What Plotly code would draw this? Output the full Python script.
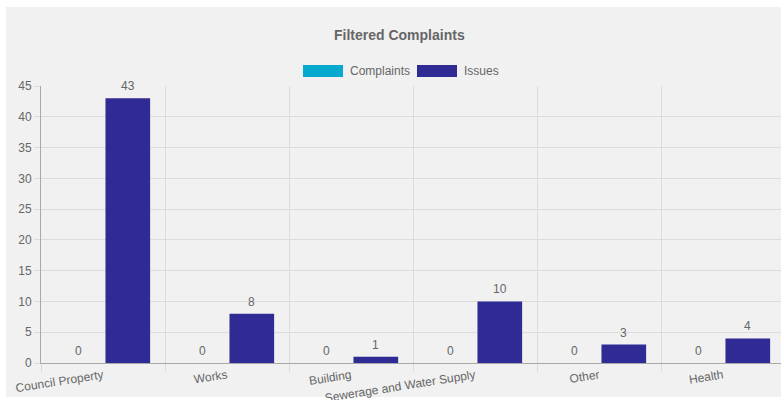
import plotly.graph_objects as go

# Complaint categories and counts per series
categories = ["Council Property", "Works", "Building", "Sewerage and Water Supply", "Other", "Health"]
complaints = [0, 0, 0, 0, 0, 0]
issues = [43, 8, 1, 10, 3, 4]
series_names = ["Complaints", "Issues"]
series_colors = ["#07a9cf", "#302a95"]
title_text = "Filtered Complaints"
y_ticks = list(range(0, 50, 5))

W, H = 781, 400
ML, MR, MT, MB = 41, 0, 86, 37
CAT_PX = 124.0                     # width of one category band in pixels
PLOT_W = W - ML - MR
PLOT_H = H - MT - MB
BARGAP, GROUPGAP = 0.2, 0.1

FONT = "Liberation Sans, Arial, Helvetica, sans-serif"
TXT = "#666666"
GRID = "#dcdcdc"
AXIS = "#a8a8a8"
PANEL = "#f1f1f1"


def px_x(p):
    return (p - ML) / PLOT_W


def px_y(p):
    return (H - MB - p) / PLOT_H


fig = go.Figure()
for name, vals, col in zip(series_names, [complaints, issues], series_colors):
    fig.add_trace(go.Bar(x=categories, y=vals, name=name, marker=dict(color=col, line=dict(width=0)),
                         showlegend=False, hoverinfo="x+y+name"))

# value labels above each bar, shifted onto the grouped bar centres
half = (1 - BARGAP) / 2 * CAT_PX / 2
annotations = []
for shift, vals in zip([-half, half], [complaints, issues]):
    for c, v in zip(categories, vals):
        annotations.append(dict(x=c, y=v, xref="x", yref="y", text=str(v), showarrow=False,
                                xshift=shift, yanchor="bottom", yshift=3,
                                font=dict(family=FONT, size=12, color=TXT)))

# title
annotations.append(dict(x=px_x(399), y=px_y(35), xref="paper", yref="paper", text="<b>" + title_text + "</b>",
                        showarrow=False, xanchor="center", yanchor="middle",
                        font=dict(family=FONT, size=14, color=TXT)))
shapes = []
# chart panel background
shapes.append(dict(type="rect", xref="paper", yref="paper", x0=px_x(6), x1=px_x(W + 5), y0=px_y(397), y1=px_y(7),
                   fillcolor=PANEL, line=dict(width=0), layer="below"))

# legend: wide colour boxes with series names
legend_boxes = [303, 417]
for name, col, bx in zip(series_names, series_colors, legend_boxes):
    shapes.append(dict(type="rect", xref="paper", yref="paper", x0=px_x(bx), x1=px_x(bx + 40),
                       y0=px_y(77), y1=px_y(65), fillcolor=col, line=dict(width=0)))
    annotations.append(dict(x=px_x(bx + 45), y=px_y(71), xref="paper", yref="paper", text=name,
                            showarrow=False, xanchor="left", yanchor="middle",
                            font=dict(family=FONT, size=12, color=TXT)))

fig.update_layout(
    width=W, height=H,
    margin=dict(l=ML, r=MR, t=MT, b=MB, pad=0, autoexpand=False),
    paper_bgcolor="white", plot_bgcolor=PANEL,
    barmode="group", bargap=BARGAP, bargroupgap=GROUPGAP,
    showlegend=False,
    annotations=annotations, shapes=shapes,
    font=dict(family=FONT, size=12, color=TXT),
)
fig.update_xaxes(
    type="category", range=[-0.5, -0.5 + PLOT_W / CAT_PX], automargin=False,
    tickson="boundaries", ticks="outside", ticklen=8, tickcolor=GRID,
    showgrid=True, gridcolor=GRID, gridwidth=1,
    showline=True, linecolor=AXIS, linewidth=1,
    tickangle=-9, tickfont=dict(family=FONT, size=12, color=TXT),
    fixedrange=True,
)
fig.update_yaxes(
    range=[0, 45], tickvals=y_ticks, ticks="outside", ticklen=6, tickcolor=GRID, automargin=False,
    showgrid=True, gridcolor=GRID, gridwidth=1, zeroline=False,
    showline=True, linecolor=AXIS, linewidth=1,
    tickfont=dict(family=FONT, size=12, color=TXT), fixedrange=True,
)

fig.write_html("out.html")
